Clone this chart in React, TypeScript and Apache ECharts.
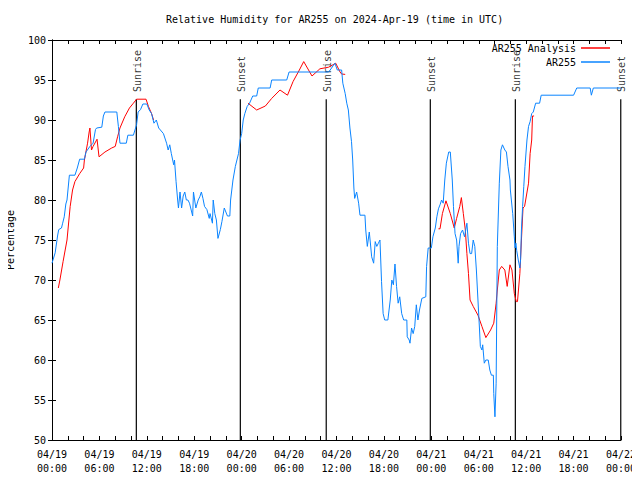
import React, { useEffect, useRef } from "react";
import * as echarts from "echarts";

// Times are hours after 2024-04-19 00:00 UTC
const blueTimes = [
  0.0, 0.4, 0.7, 0.85, 1.2, 1.35, 1.55, 1.75, 1.9, 2.2, 2.9, 3.2, 3.5, 4.1, 4.3, 4.8, 5.2, 5.5, 5.65, 6.3,
  6.5, 6.7, 8.2, 8.4, 8.6, 9.4, 9.6, 10.3, 10.7, 10.9, 11.2, 11.5, 12.0, 12.3, 12.6, 12.9, 13.2, 13.5, 14.1, 14.5,
  14.7, 14.9, 15.1, 15.4, 15.5, 15.7, 15.9, 16.0, 16.2, 16.4, 16.6, 16.8, 17.0, 17.2, 17.4, 17.8, 17.9, 18.2, 18.5, 18.7,
  18.9, 19.1, 19.3, 19.6, 19.9, 20.0, 20.3, 20.4, 20.6, 20.8, 21.0, 21.3, 21.5, 21.8, 22.2, 22.5, 22.6, 22.9, 23.2, 23.6,
  23.8, 24.0, 24.2, 24.4, 24.7, 25.0, 25.4, 25.9, 26.1, 27.6, 27.8, 29.7, 30.0, 35.0, 35.2, 35.8, 36.1, 36.65, 36.8, 37.1,
  37.3, 37.5, 37.7, 37.9, 38.05, 38.2, 38.3, 38.55, 38.8, 38.97, 39.6, 39.7, 39.9, 40.15, 40.3, 40.45, 40.7, 40.9, 41.1, 41.3,
  41.5, 41.7, 41.9, 42.1, 42.5, 42.8, 43.0, 43.2, 43.4, 43.6, 43.8, 44.0, 44.25, 44.5, 44.9, 44.95, 45.2, 45.3, 45.5, 45.7,
  45.9, 46.1, 46.3, 46.5, 46.8, 47.3, 47.4, 47.6, 48.0, 48.2, 48.5, 48.7, 48.9, 49.1, 49.3, 49.5, 49.7, 49.9, 50.2, 50.4,
  50.65, 50.8, 51.0, 51.2, 51.4, 51.5, 51.7, 51.95, 52.2, 52.5, 52.7, 52.9, 53.1, 53.3, 53.5, 53.7, 53.9, 54.1, 54.2, 54.4,
  54.5, 54.7, 54.9, 55.2, 55.4, 55.6, 55.85, 55.9, 56.05, 56.2, 56.35, 56.6, 56.8, 57.0, 57.3, 57.5, 57.7, 57.95, 58.0, 58.3,
  58.5, 58.6, 58.7, 58.8, 59.0, 59.2, 59.3, 59.4, 59.55, 59.7, 59.85, 60.1, 60.3, 60.5, 60.7, 60.9, 61.2, 61.7, 61.9, 66.0,
  66.4, 68.1, 68.25, 68.5, 72.0,
];
const blueValues = [
  72.1, 73.4, 75.5, 76.3, 76.5, 77.1, 77.9, 79.5, 80.0, 83.1, 83.1, 84.0, 85.1, 85.1, 86.0, 86.7, 87.1, 88.8, 89.0, 89.1,
  90.5, 91.0, 91.0, 89.2, 87.1, 87.1, 88.1, 88.1, 89.4, 91.0, 91.3, 92.0, 92.0, 91.25, 90.8, 89.6, 90.0, 89.0, 88.3, 87.1,
  86.25, 86.9, 85.8, 84.4, 85.0, 82.3, 80.0, 79.0, 81.0, 79.0, 80.5, 81.0, 80.0, 80.0, 79.6, 78.0, 81.0, 79.0, 80.0, 80.4,
  81.0, 80.2, 79.2, 78.8, 77.7, 78.3, 77.1, 80.0, 78.3, 77.5, 75.2, 76.3, 77.3, 79.0, 78.0, 78.0, 80.0, 82.5, 84.2, 85.8,
  87.5, 88.3, 90.0, 90.8, 91.7, 92.1, 93.0, 93.0, 94.0, 94.0, 95.0, 95.0, 96.0, 96.0, 96.25, 97.1, 96.25, 96.25, 94.6, 93.3,
  92.1, 91.25, 89.0, 87.3, 85.0, 81.5, 80.2, 81.0, 79.6, 78.1, 78.1, 76.25, 74.2, 76.0, 74.5, 72.9, 72.1, 74.8, 74.2, 74.6,
  75.0, 69.8, 65.8, 65.0, 65.0, 67.5, 70.0, 69.4, 72.0, 69.2, 67.1, 67.9, 65.8, 65.0, 65.0, 62.9, 62.5, 62.1, 64.0, 63.3,
  64.2, 66.9, 65.0, 66.25, 67.7, 67.9, 71.7, 74.0, 74.0, 75.4, 76.5, 77.9, 78.9, 79.4, 80.0, 79.6, 82.5, 84.6, 86.0, 86.0,
  82.5, 79.2, 75.8, 75.0, 72.1, 74.2, 75.8, 76.25, 75.4, 77.1, 74.6, 73.3, 73.3, 75.0, 74.2, 71.25, 67.5, 63.75, 61.7, 61.25,
  61.9, 59.6, 60.0, 60.0, 58.75, 58.1, 58.1, 55.8, 52.9, 57.1, 74.2, 82.1, 86.25, 86.9, 86.25, 86.0, 84.2, 82.5, 81.25, 78.3,
  75.4, 74.0, 74.6, 73.7, 72.5, 71.5, 72.6, 76.25, 79.2, 81.7, 84.2, 87.5, 89.2, 89.8, 90.8, 91.0, 92.1, 92.1, 93.1, 93.1,
  94.0, 94.0, 93.1, 94.0, 94.0,
];

// null = no analysis data (gap)
const redTimes = [
  0.8, 1.0, 1.4, 1.9, 2.3, 2.6, 2.9, 3.5, 4.0, 4.1, 4.5, 4.7, 4.8, 5.0, 5.2, 5.7, 5.95, 6.7, 7.55, 8.0,
  8.3, 8.6, 9.2, 9.8, 10.3, 10.7, 11.9, 12.2, 12.6, 12.85, 18.0, 24.8, 25.9, 27.0, 27.8, 28.85, 29.8, 30.5, 31.3, 31.85,
  32.9, 33.9, 35.0, 35.9, 36.45, 36.65, 37.1, 43.0, 48.9, 49.1, 49.4, 49.85, 50.4, 50.9, 51.2, 51.6, 51.8, 52.05, 52.3, 52.5,
  52.7, 52.9, 53.3, 53.9, 54.4, 54.9, 55.5, 55.9, 56.2, 56.35, 56.6, 56.9, 57.3, 57.6, 57.95, 58.2, 58.5, 58.75, 58.9, 59.2,
  59.4, 59.6, 59.8, 60.3, 60.5, 60.7, 60.8, 61.0,
];
const redValues = [
  69.0, 70.0, 72.3, 75.0, 79.2, 81.25, 82.3, 83.3, 84.0, 85.0, 87.1, 88.5, 89.0, 86.25, 86.7, 87.6, 85.4, 86.0, 86.5, 86.7,
  87.9, 89.0, 90.4, 91.5, 92.1, 92.6, 92.6, 91.7, 90.8, 90.0, null, 92.1, 91.25, 91.75, 92.7, 93.75, 93.1, 94.8, 96.25, 97.3,
  95.5, 96.4, 96.6, 97.1, 96.0, 95.75, 95.7, null, 76.4, 76.4, 78.3, 79.9, 78.3, 76.5, 77.7, 79.2, 80.3, 78.3, 76.25, 73.3,
  70.8, 67.5, 66.7, 65.6, 64.2, 62.8, 63.75, 64.6, 67.1, 68.75, 71.25, 71.7, 71.25, 69.2, 71.9, 71.25, 68.3, 67.3, 67.3, 70.8,
  75.0, 79.0, 79.2, 82.1, 85.8, 87.5, 90.5, 90.5,
];

const eventNames = ["Sunrise", "Sunset", "Sunrise", "Sunset", "Sunrise", "Sunset"];
const eventTimes = [10.67, 23.83, 34.7, 47.87, 58.63, 71.97];
const eventLineTop = 92.6;
const eventLabelBase = 93.5;

const xTickHours = 6;
const yMin = 50;
const yMax = 100;
const yStep = 5;

const FONT = "DejaVu Sans Mono";

function fmtX(v: number): string {
  const day = 19 + Math.floor(v / 24);
  const hh = Math.round(v % 24);
  return `04/${day}\n${String(hh).padStart(2, "0")}:00`;
}

export default function App() {
  const ref = useRef<HTMLDivElement>(null);
  useEffect(() => {
    if (!ref.current) return;
    const chart = echarts.init(ref.current, null, { renderer: "svg" });

    const blueData = blueTimes.map((t, i) => [t, blueValues[i]]);
    const redData = redTimes.map((t, i) => [t, redValues[i] === null ? "-" : redValues[i]]);
    const eventLineData: any[] = [];
    eventTimes.forEach((t) => {
      eventLineData.push([t, yMin]);
      eventLineData.push([t, eventLineTop]);
      eventLineData.push([t, "-"]);
    });
    const eventLabelData = eventTimes.map((t, i) => ({ value: [t, eventLabelBase], name: eventNames[i] }));

    const xCommon = {
      type: "value" as const,
      min: 0,
      max: 72,
      interval: xTickHours,
      splitLine: { show: false },
      axisLine: { show: true, lineStyle: { color: "#000", width: 1 } },
      axisTick: { show: true, inside: true, length: 4, lineStyle: { color: "#000" } },
      minorTick: { show: true, splitNumber: 3, length: 4, lineStyle: { color: "#000" } },
      minorSplitLine: { show: false },
    };
    const yCommon = {
      type: "value" as const,
      min: yMin,
      max: yMax,
      interval: yStep,
      splitLine: { show: false },
      axisLine: { show: true, lineStyle: { color: "#000", width: 1 } },
      axisTick: { show: true, inside: true, length: 4, lineStyle: { color: "#000" } },
    };

    chart.setOption({
      animation: false,
      textStyle: { fontFamily: FONT, color: "#000" },
      title: {
        text: "Relative Humidity for AR255 on 2024-Apr-19 (time in UTC)",
        left: 166,
        top: 14,
        padding: 0,
        textStyle: { fontFamily: FONT, fontSize: 10, fontWeight: "normal", color: "#000" },
      },
      legend: [
        {
          data: ["AR255 Analysis"],
          right: 30,
          top: 43,
          padding: 0,
          align: "right",
          icon: "rect",
          itemWidth: 29,
          itemHeight: 1.5,
          selectedMode: false,
          textStyle: { fontFamily: FONT, fontSize: 10, color: "#000" },
        },
        {
          data: ["AR255"],
          right: 30,
          top: 57,
          padding: 0,
          align: "right",
          icon: "rect",
          itemWidth: 29,
          itemHeight: 1.5,
          selectedMode: false,
          textStyle: { fontFamily: FONT, fontSize: 10, color: "#000" },
        },
      ],
      grid: { left: 52, right: 19, top: 40, bottom: 40, outerBoundsMode: "none", containLabel: false },
      xAxis: [
        {
          ...xCommon,
          position: "bottom",
          axisLabel: {
            show: true,
            formatter: fmtX,
            fontFamily: FONT,
            fontSize: 10,
            lineHeight: 14,
            margin: 7,
            color: "#000",
            showMinLabel: true,
            showMaxLabel: true,
          },
        },
        { ...xCommon, position: "top", axisLabel: { show: false } },
      ],
      yAxis: [
        {
          ...yCommon,
          position: "left",
          name: "Percentage",
          nameLocation: "middle",
          nameRotate: 90,
          nameGap: 37,
          nameTextStyle: { fontFamily: FONT, fontSize: 10, color: "#000" },
          axisLabel: { fontFamily: FONT, fontSize: 10, margin: 6, color: "#000" },
        },
        { ...yCommon, position: "right", axisLabel: { show: false } },
      ],
      series: [
        {
          name: "Event lines",
          type: "line",
          data: eventLineData,
          symbol: "none",
          silent: true,
          connectNulls: false,
          lineStyle: { color: "#000", width: 1.2 },
          itemStyle: { color: "#000" },
          z: 1,
        },
        {
          name: "Event labels",
          type: "scatter",
          data: eventLabelData,
          symbolSize: 0,
          silent: true,
          label: {
            show: true,
            formatter: "{b}",
            position: "inside",
            rotate: 90,
            align: "left",
            verticalAlign: "middle",
            offset: [0, 1],
            fontFamily: FONT,
            fontSize: 10,
            color: "#000",
          },
          z: 1,
        },
        {
          name: "AR255 Analysis",
          type: "line",
          data: redData,
          symbol: "none",
          connectNulls: false,
          lineStyle: { color: "#ff0000", width: 1 },
          itemStyle: { color: "#ff0000" },
          z: 2,
        },
        {
          name: "AR255",
          type: "line",
          data: blueData,
          symbol: "none",
          lineStyle: { color: "#0a84ff", width: 1 },
          itemStyle: { color: "#0a84ff" },
          z: 3,
        },
      ],
    });
    return () => chart.dispose();
  }, []);
  return <div ref={ref} style={{ width: 640, height: 480, margin: -8 }} />;
}
